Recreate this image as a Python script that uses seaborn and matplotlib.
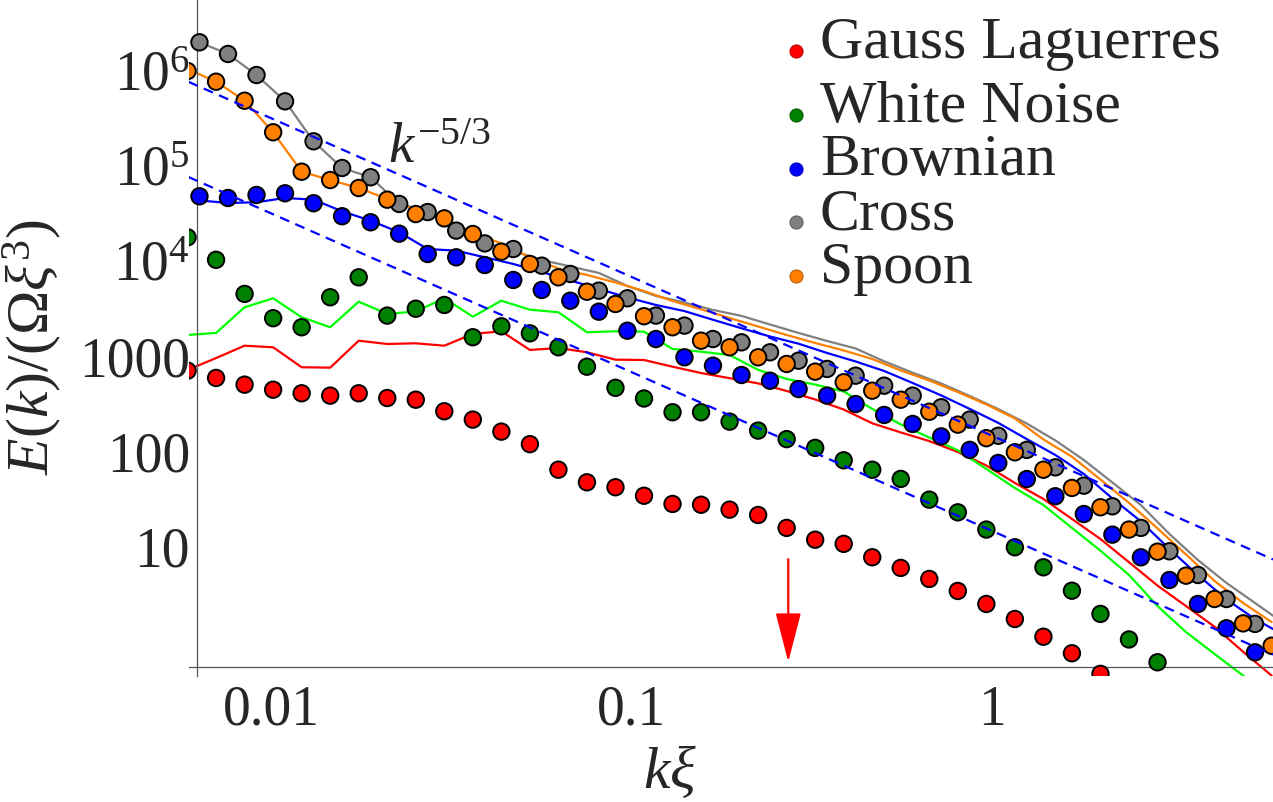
import matplotlib
matplotlib.use("Agg")
import pandas as pd
import matplotlib.pyplot as plt
import seaborn as sns
from matplotlib.ticker import LogLocator, NullFormatter, FixedLocator


# wavenumber grids (two sets of sample points)
k_a = [0.005866, 0.007039, 0.008447, 0.010137, 0.012164, 0.014597, 0.017516, 0.02102,
       0.025224, 0.030268, 0.036322, 0.043586, 0.052303, 0.062764, 0.075317, 0.09038,
       0.10846, 0.13015, 0.15618, 0.18741, 0.2249, 0.26988, 0.32385, 0.38862,
       0.46635, 0.55962, 0.67154, 0.80585, 0.96702, 1.1604, 1.3925, 1.671,
       2.0052, 2.4063, 2.8875, 3.465, 4.158, 4.9896, 5.9876]
k_b = [0.00633, 0.007596, 0.009115, 0.010938, 0.013126, 0.015751, 0.018901, 0.022681,
       0.027218, 0.032661, 0.039193, 0.047032, 0.056438, 0.067726, 0.081271, 0.097525,
       0.11703, 0.14044, 0.16852, 0.20223, 0.24268, 0.29121, 0.34946, 0.41935,
       0.50322, 0.60386, 0.72463, 0.86956, 1.0435, 1.2522, 1.5026, 1.8031,
       2.1637, 2.5965, 3.1158, 3.7389, 4.4867, 5.3841, 6.4609]

# dots
gauss_pts = [686, 575, 489, 433, 397, 375, 397, 354, 340, 257, 210, 157, 116, 62.5, 46.1,
             40.9, 33.3, 27.3, 26.8, 23.8, 20.9, 15.3, 11.5, 10.4, 7.52, 5.81, 4.45, 3.33,
             2.43, 1.69, 1.10, 0.738, 0.448]
white_pts = [17260, 10020, 4390, 2440, 1960, 4050, 6560, 2600, 3070, 3360, 1540, 2005, 1693,
             1208, 755, 453, 350, 251, 251, 200, 161, 131, 106, 78.5, 62.5, 50.0, 30.3, 22.3,
             14.7, 9.58, 5.90, 3.35, 1.91, 1.03, 0.593]
brown_pts = [46560, 44670, 48080, 50090, 39350, 28730, 24840, 18850, 11530, 10640, 8830, 6150,
             4830, 3725, 2857, 1803, 1475, 948, 774, 618, 538, 440, 375, 306, 235, 189, 140,
             101, 73.6, 49.9, 32.9, 21.4, 13.0, 7.51, 4.34, 2.43, 1.35, 0.755]
cross_pts = [1.93e6, 1.455e6, 875000, 463000, 176000, 92300, 73800, 38700, 31800, 20300, 14900,
             13000, 8690, 7110, 4750, 3950, 2600, 2040, 1475, 1361, 1070, 873, 715, 608, 477,
             375, 283, 210, 142, 101, 66.2, 42.5, 25.8, 15.3, 8.69, 4.90, 2.74, 1.50]
spoon_pts = [964000, 744000, 470000, 219000, 84400, 69000, 56900, 42900, 30300, 27300, 18700,
             12200, 9060, 6560, 4630, 3440, 2560, 1960, 1417, 1208, 948, 807, 670, 518, 423,
             340, 254, 186, 134, 95.3, 62.5, 40.2, 25.2, 14.7, 8.61, 4.82, 2.74, 1.52, 0.885]

# solid curves
gauss_line = [697, 931, 1255, 1208, 745, 738, 1416, 1308, 1330, 1255, 1667, 1779, 1132, 1188,
              1070, 895, 888, 755, 648, 572, 504, 420, 342, 268, 192, 154, 125, 95.9, 69.2,
              45.4, 30.8, 19.0, 11.7, 6.67, 3.79, 2.31, 1.40, 0.765, 0.43]
white_line = [1626, 1708, 3176, 3951, 2495, 1960, 3640, 2704, 2872, 3951, 2531, 3725, 2999,
              2817, 1737, 1779, 1762, 1159, 1086, 1002, 700, 561, 490, 415, 272, 187, 136,
              100, 63.7, 40.2, 26.6, 15.3, 8.82, 4.90, 2.31, 1.23, 0.724, 0.43, 0.244]
brown_line = [42100, 39600, 40300, 44700, 42900, 32400, 25800, 19500, 13000, 12500, 10650,
              9060, 7460, 6080, 4950, 4030, 3360, 2900, 2350, 1913, 1568, 1317, 1052, 857,
              681, 509, 377, 272, 194, 131, 89.3, 56.4, 31.2, 17.9, 9.18, 4.90, 2.71, 1.69, 1.15]
cross_line = [1.93e6, 1.455e6, 875000, 464000, 176000, 92300, 73800, 38700, 32600, 20600,
              15400, 12400, 9980, 8530, 7290, 5320, 4180, 3570, 2980, 2580, 2096, 1708, 1407,
              1173, 860, 653, 503, 372, 271, 191, 127, 79.1, 45.9, 26.6, 13.2, 7.03, 4.04,
              2.49, 1.53]
spoon_line = [1.01e6, 745000, 470000, 219000, 84400, 69000, 56900, 43600, 33400, 27200, 19200,
              14900, 10640, 8120, 6940, 5790, 4710, 3700, 3030, 2450, 1997, 1626, 1340, 1118,
              910, 689, 541, 409, 303, 216, 130, 85.7, 49.3, 28.0, 15.1, 8.04, 4.24, 2.49, 1.57]

labels = ["Gauss Laguerres", "White Noise", "Brownian", "Cross", "Spoon"]
dot_colors = ["#ff0000", "#008000", "#0000ff", "#808080", "#ff8000"]
line_colors = ["#ff0000", "#00ff00", "#0000ff", "#808080", "#ff8000"]

ref_amp = [143, 14.3]      # prefactors of the two k^-5/3 guide lines
arrow_k = 0.2727
arrow_from, arrow_to = 7.2, 0.597


def frame(k, vals, name):
    return pd.DataFrame({"k": k[:len(vals)], "E": vals, "series": name})


sns.set_style("white")
plt.rcParams["font.family"] = ["Liberation Serif", "DejaVu Serif"]
plt.rcParams["mathtext.fontset"] = "custom"
plt.rcParams["mathtext.rm"] = "Liberation Serif"
plt.rcParams["mathtext.it"] = "Liberation Serif:italic"
plt.rcParams["mathtext.bf"] = "Liberation Serif:bold"

fig = plt.figure(figsize=(12.73, 8.03), dpi=100)
ax = fig.add_axes([0.14808, 0.15691, 0.85192, 0.84309])
ax.set_xscale("log")
ax.set_yscale("log")

lines = pd.concat([
    frame(k_a, gauss_line, labels[0]),
    frame(k_a, white_line, labels[1]),
    frame(k_b, brown_line, labels[2]),
    frame(k_b, cross_line, labels[3]),
    frame(k_a, spoon_line, labels[4]),
])
dots = pd.concat([
    frame(k_a, gauss_pts, labels[0]),
    frame(k_a, white_pts, labels[1]),
    frame(k_b, brown_pts, labels[2]),
    frame(k_b, cross_pts, labels[3]),
    frame(k_a, spoon_pts, labels[4]),
])

sns.lineplot(data=lines, x="k", y="E", hue="series", hue_order=labels,
             palette=line_colors, estimator=None, sort=False, linewidth=1.6,
             legend=False, ax=ax, zorder=2)
sns.scatterplot(data=dots, x="k", y="E", hue="series", hue_order=labels,
                palette=dot_colors, s=140, edgecolor="black", linewidth=1.4,
                legend=False, ax=ax, zorder=3)

xmin, xmax = 0.005902, 6.04
for a in ref_amp:
    ax.plot([xmin, xmax], [a * xmin ** (-5 / 3), a * xmax ** (-5 / 3)],
            color="#0000ff", lw=1.6, ls=(0, (4.5, 3)), zorder=4)

ax.annotate("", xy=(arrow_k, arrow_to), xytext=(arrow_k, arrow_from),
            arrowprops=dict(arrowstyle="-|>,head_length=31,head_width=8",
                            mutation_scale=1, color="red", lw=1.6,
                            shrinkA=0, shrinkB=0), zorder=5)

ax.text(0.02113, 1.07e5, r"$k^{-5/3}$", fontsize=41, ha="left", va="baseline")

ax.set_xlim(xmin, xmax)
ax.set_ylim(0.4256, 5.5e6)

for side in ["top", "right"]:
    ax.spines[side].set_visible(False)
ax.spines["left"].set_position(("data", 0.006231))
ax.spines["bottom"].set_position(("data", 0.5255))
for side in ["left", "bottom"]:
    ax.spines[side].set_color("#555555")
    ax.spines[side].set_linewidth(0.9)

ax.xaxis.set_major_locator(FixedLocator([0.01, 0.1, 1]))
ax.set_xticklabels(["0.01", "0.1", "1"])
ax.yaxis.set_major_locator(FixedLocator([10, 100, 1000, 1e4, 1e5, 1e6]))
ax.set_yticklabels(["10", "100", "1000", r"$10^{4}$", r"$10^{5}$", r"$10^{6}$"])
for axis in [ax.xaxis, ax.yaxis]:
    axis.set_minor_locator(LogLocator(base=10, subs=range(2, 10), numticks=30))
    axis.set_minor_formatter(NullFormatter())

ax.tick_params(axis="x", which="major", direction="in", length=11, width=0.8,
               color="#888888", labelsize=40, pad=12)
ax.tick_params(axis="x", which="minor", direction="in", length=5, width=0.7, color="#888888")
ax.tick_params(axis="y", which="major", direction="in", length=8, width=0.8,
               color="#888888", labelsize=40, pad=5)
ax.tick_params(axis="y", which="minor", direction="in", length=4, width=0.7, color="#888888")
ax.set_xlabel("")
ax.set_ylabel("")

fig.text(32 / 1273, 1 - 347 / 803, r"$E(k)/(\Omega\xi^3)$", fontsize=43,
         rotation=90, ha="center", va="center")
fig.text(670 / 1273, 1 - 773 / 803, r"$k\xi$", fontsize=43, ha="center", va="center")

# legend
marker_y = [51.7, 116, 170, 223.3, 276.7]
text_y = [58, 122, 175, 230, 283]
for lab, col, my, ty in zip(labels, dot_colors, marker_y, text_y):
    edge = tuple(0.75 * c for c in matplotlib.colors.to_rgb(col))
    ax.plot([796 / 1273], [1 - my / 803], "o", transform=fig.transFigure, ms=9.4,
            mfc=col, mec=edge, mew=0.8, clip_on=False)
    fig.text(820 / 1273, 1 - ty / 803, lab, fontsize=43, ha="left", va="baseline")

fig.savefig("out.png", dpi=100)
